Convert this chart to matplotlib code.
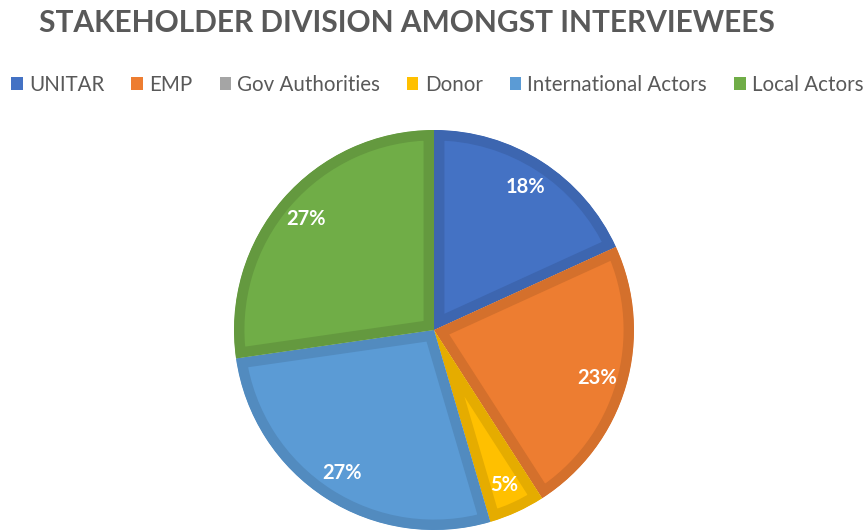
import matplotlib
matplotlib.use("Agg")
import matplotlib.pyplot as plt
from matplotlib.patches import Patch

categories = ["UNITAR", "EMP", "Gov Authorities", "Donor", "International Actors", "Local Actors"]
counts = [4, 5, 0, 1, 6, 6]
colors = ["#4472C4", "#ED7D31", "#A5A5A5", "#FFC000", "#5B9BD5", "#70AD47"]
edge_colors = ["#3D66B0", "#D4702C", "#949494", "#E5AC00", "#528BBF", "#64993F"]
title = "STAKEHOLDER DIVISION AMONGST INTERVIEWEES"

plt.rcParams['font.family'] = ['Lato', 'DejaVu Sans']

W, H = 866, 530
fig = plt.figure(figsize=(W / 100, H / 100), dpi=100)
fig.patch.set_facecolor("white")

cx, cy, r = 434, 330, 200
ax = fig.add_axes([(cx - r) / W, (H - cy - r) / H, 2 * r / W, 2 * r / H])

def fmt(p):
    return "" if p < 0.5 else f"{p:.0f}%"

wedges, texts, autotexts = ax.pie(
    counts, colors=colors, startangle=90, counterclock=False,
    autopct=fmt, pctdistance=0.85, radius=1,
    wedgeprops=dict(linewidth=15, joinstyle="miter"),
    textprops=dict(color="white", fontsize=14.5, fontweight="bold"),
)
for w, ec in zip(wedges, edge_colors):
    w.set_edgecolor(ec)
    w.set_clip_on(True)
    w.set_clip_path(w.get_path(), w.get_transform())

ax.set_xlim(-1, 1)
ax.set_ylim(-1, 1)
ax.set_aspect("equal")
ax.axis("off")

fig.text(0.470, 0.957, title, ha="center", va="center", fontsize=21.5,
         fontweight="bold", color="#595959")

handles = [Patch(facecolor=c, edgecolor="none") for c in colors]
leg = fig.legend(handles, categories, loc="center", bbox_to_anchor=(0.505, 0.840),
                 ncol=6, frameon=False, fontsize=14.8, handlelength=0.55,
                 handleheight=0.55, handletextpad=0.3, columnspacing=1.33,
                 labelcolor="#595959")

fig.savefig("out.png", dpi=100, facecolor="white")
